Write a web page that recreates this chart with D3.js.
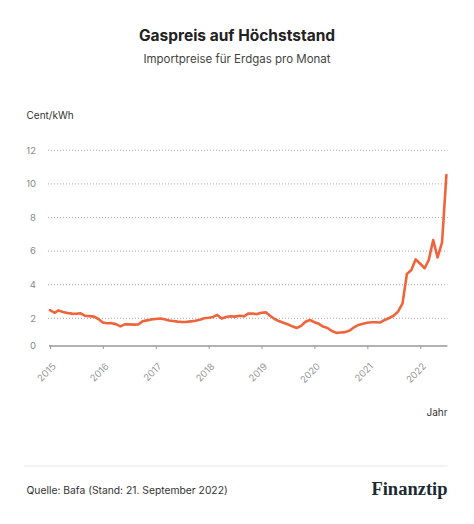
<!DOCTYPE html>
<html>
<head>
<meta charset="utf-8">
<script src="https://cdn.jsdelivr.net/npm/d3@7"></script>
<style>
  html, body { margin: 0; padding: 0; background: #fff; }
  svg { display: block; font-family: Inter, "Noto Sans", sans-serif; }
</style>
</head>
<body>
<svg id="chart" width="474" height="524"></svg>
<script>
// ---- data (Cent/kWh, monthly import price of natural gas) ----
const startYear = 2015;
const values2015 = [2.49, 2.33, 2.47, 2.38, 2.32, 2.28, 2.27, 2.30, 2.15, 2.13, 2.10, 1.95];
const values2016 = [1.70, 1.64, 1.65, 1.58, 1.42, 1.56, 1.56, 1.54, 1.55, 1.78, 1.85, 1.92];
const values2017 = [1.95, 1.98, 1.93, 1.84, 1.80, 1.76, 1.73, 1.74, 1.78, 1.82, 1.90, 2.00];
const values2018 = [2.03, 2.08, 2.20, 1.98, 2.08, 2.12, 2.10, 2.15, 2.12, 2.28, 2.28, 2.25];
const values2019 = [2.33, 2.35, 2.15, 1.95, 1.80, 1.68, 1.57, 1.42, 1.30, 1.45, 1.75, 1.88];
const values2020 = [1.72, 1.60, 1.40, 1.30, 1.08, 0.95, 0.98, 1.00, 1.12, 1.35, 1.52, 1.60];
const values2021 = [1.68, 1.71, 1.72, 1.70, 1.88, 2.02, 2.15, 2.40, 2.89, 4.64, 4.87, 5.51];
const values2022 = [5.25, 4.98, 5.47, 6.66, 5.62, 6.52, 10.53];
const yearTicks = ["2015", "2016", "2017", "2018", "2019", "2020", "2021", "2022"];
const yTicks = [0, 2, 4, 6, 8, 10, 12];

const series = [values2015, values2016, values2017, values2018, values2019, values2020, values2021, values2022];
const data = [];
series.forEach((arr, yi) => arr.forEach((v, m) => data.push({ date: new Date(startYear + yi, m, 1), value: v })));

const svg = d3.select("#chart");

const x = d3.scaleTime()
  .domain([new Date(2015, 0, 1), new Date(2022, 6, 1)])
  .range([50, 446.4]);
const y = d3.scaleLinear()
  .domain([0, 2, 12])
  .range([346, 318.3, 150.3]);

// title
svg.append("text").attr("x", 237).attr("y", 41).attr("text-anchor", "middle")
  .attr("font-size", 15.5).attr("font-weight", 700).attr("fill", "#222")
  .text("Gaspreis auf Höchststand");
svg.append("text").attr("x", 237).attr("y", 63).attr("text-anchor", "middle")
  .attr("font-size", 11.5).attr("fill", "#444")
  .text("Importpreise für Erdgas pro Monat");
svg.append("text").attr("x", 26.5).attr("y", 119)
  .attr("font-size", 10).attr("fill", "#333")
  .text("Cent/kWh");

// grid
const grid = svg.append("g");
grid.selectAll("line").data(yTicks.filter(d => d > 0)).join("line")
  .attr("x1", 48).attr("x2", 447.5)
  .attr("y1", d => y(d)).attr("y2", d => y(d))
  .attr("stroke", "#aaa").attr("stroke-width", 1)
  .attr("stroke-dasharray", "1,2");

// y labels
svg.append("g").selectAll("text").data(yTicks).join("text")
  .attr("x", 36).attr("y", d => y(d)).attr("dy", "0.35em")
  .attr("text-anchor", "end").attr("font-size", 9.5).attr("fill", "#888")
  .text(d => d);

// x axis
const xAxis = d3.axisBottom(x)
  .tickValues(yearTicks.map(t => new Date(+t, 0, 1)))
  .tickSize(3)
  .tickFormat(d3.timeFormat("%Y"));
const gx = svg.append("g").attr("transform", `translate(0,${y(0)})`).call(xAxis);
gx.select(".domain").attr("stroke", "#999").attr("stroke-width", 1.4)
  .attr("d", `M${x.range()[0] - 1},0H${x.range()[1] + 1}`);
gx.selectAll(".tick line").attr("stroke", "#999");
gx.selectAll(".tick text")
  .attr("font-family", "Inter, sans-serif")
  .attr("font-size", 9.5).attr("fill", "#999")
  .attr("text-anchor", "end")
  .attr("y", 0).attr("dy", 0)
  .attr("transform", "translate(6,21) rotate(-45)");

// line
const line = d3.line().x(d => x(d.date)).y(d => y(d.value));
svg.append("path").datum(data)
  .attr("d", line)
  .attr("fill", "none")
  .attr("stroke", "#f0643c")
  .attr("stroke-width", 2.6)
  .attr("stroke-linejoin", "round")
  .attr("stroke-linecap", "round");

svg.append("text").attr("x", 447.5).attr("y", 416).attr("text-anchor", "end")
  .attr("font-size", 10).attr("fill", "#333").text("Jahr");

// footer
svg.append("line").attr("x1", 24).attr("x2", 447.5).attr("y1", 466).attr("y2", 466)
  .attr("stroke", "#e6e6e6").attr("stroke-width", 1);
svg.append("text").attr("x", 26.5).attr("y", 494)
  .attr("font-size", 10.3).attr("fill", "#333")
  .text("Quelle: Bafa (Stand: 21. September 2022)");
svg.append("text").attr("x", 447.5).attr("y", 495).attr("text-anchor", "end")
  .style("font-family", "'Liberation Serif', 'DejaVu Serif', serif")
  .attr("font-size", 18.5).attr("font-weight", 700).attr("fill", "#1c2a33")
  .text("Finanztip");
</script>
</body>
</html>
